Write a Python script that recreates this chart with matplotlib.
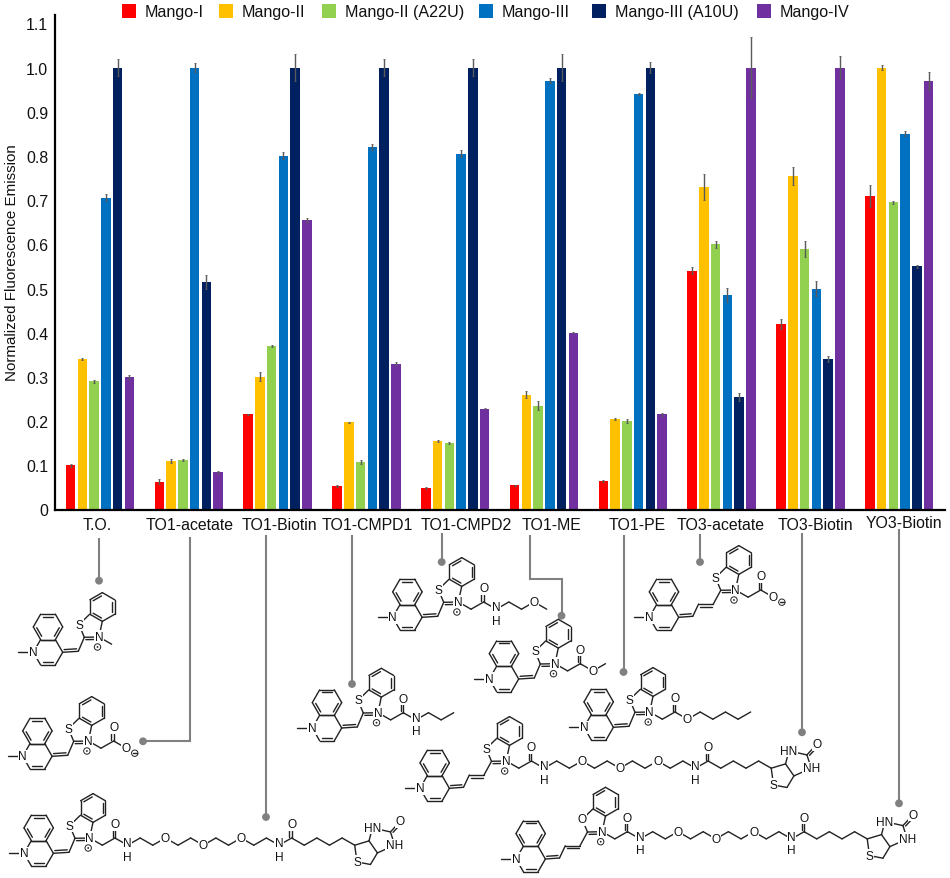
import numpy as np
import matplotlib
matplotlib.use('agg')
import matplotlib.pyplot as plt
from matplotlib.patches import Rectangle, Circle

plt.rcParams['font.family'] = ['Liberation Sans', 'DejaVu Sans']

# data
series = ['Mango-I', 'Mango-II', 'Mango-II (A22U)', 'Mango-III', 'Mango-III (A10U)', 'Mango-IV']
colors = ['#ff0000', '#ffc000', '#92d050', '#0070c0', '#002060', '#7030a0']
ligands = ['T.O.', 'TO1-acetate', 'TO1-Biotin', 'TO1-CMPD1', 'TO1-CMPD2', 'TO1-ME',
           'TO1-PE', 'TO3-acetate', 'TO3-Biotin', 'YO3-Biotin']

mango1 = [0.10, 0.063, 0.215, 0.053, 0.048, 0.055, 0.065, 0.54, 0.42, 0.71]
mango2 = [0.34, 0.11, 0.30, 0.197, 0.155, 0.26, 0.205, 0.73, 0.755, 1.0]
mango2m = [0.29, 0.112, 0.37, 0.108, 0.15, 0.235, 0.20, 0.60, 0.59, 0.695]
mango3 = [0.705, 1.0, 0.80, 0.82, 0.805, 0.97, 0.94, 0.485, 0.50, 0.85]
mango3m = [1.0, 0.515, 1.0, 1.0, 1.0, 1.0, 1.0, 0.255, 0.34, 0.55]
mango4 = [0.30, 0.085, 0.655, 0.33, 0.228, 0.40, 0.215, 1.0, 1.0, 0.97]

err1 = [0.003, 0.005, 0.002, 0.002, 0.002, 0.001, 0.002, 0.008, 0.012, 0.025]
err2 = [0.002, 0.004, 0.01, 0.002, 0.002, 0.008, 0.002, 0.03, 0.02, 0.005]
err2m = [0.004, 0.002, 0.003, 0.005, 0.002, 0.01, 0.004, 0.008, 0.018, 0.003]
err3 = [0.008, 0.01, 0.008, 0.007, 0.008, 0.006, 0.003, 0.016, 0.018, 0.006]
err3m = [0.02, 0.015, 0.03, 0.02, 0.02, 0.03, 0.013, 0.009, 0.007, 0.004]
err4 = [0.004, 0.002, 0.004, 0.004, 0.001, 0.001, 0.004, 0.07, 0.025, 0.02]

values = [mango1, mango2, mango2m, mango3, mango3m, mango4]
errors = [err1, err2, err2m, err3, err3m, err4]

W, H = 950, 879
fig = plt.figure(figsize=(9.5, 8.79), dpi=100)

### bar chart ###
ax = fig.add_axes([55 / W, 1 - 510.5 / H, 890 / W, 495 / H])
x = np.arange(len(ligands))
for num in range(6):
    ax.bar(x + (num - 2.5) * 0.1323, values[num], width=0.107, color=colors[num],
           yerr=errors[num], ecolor='#5a5a5a',
           error_kw={'elinewidth': 1.0, 'capsize': 0.6, 'capthick': 0.6})
ax.set_xlim(-0.507, 9.516)
ax.set_ylim(0, 1.12)
ax.set_yticks(np.arange(0, 1.11, 0.1))
ax.set_yticklabels(['0', '0.1', '0.2', '0.3', '0.4', '0.5', '0.6', '0.7', '0.8', '0.9', '1.0', '1.1'],
                   fontsize=11.4, color='#111111')
ax.set_xticks([])
ax.tick_params(axis='y', length=0, pad=5)
ax.set_ylabel('Normalized Fluorescence Emission', fontsize=10.9, color='#111111', labelpad=5)
ax.spines['top'].set_visible(False)
ax.spines['right'].set_visible(False)
ax.spines['left'].set_linewidth(1.6)
ax.spines['bottom'].set_linewidth(1.6)

### overlay in pixel coordinates for legend, labels and structures ###
ov = fig.add_axes([0, 0, 1, 1], zorder=5)
ov.set_xlim(0, W)
ov.set_ylim(H, 0)
ov.axis('off')
ov.patch.set_alpha(0)

# legend
legend_x = [122, 219, 322, 479, 592, 757]
for num in range(6):
    ov.add_patch(Rectangle((legend_x[num], 5), 14, 14, color=colors[num], lw=0))
    ov.text(legend_x[num] + 23, 12, series[num], fontsize=11.6, va='center', color='#111111')

# x labels do not sit on the group centres
label_x = [96.7, 190, 279, 367.7, 466, 551, 636.7, 721, 815, 904]
label_y = [525.7] * 9 + [523.5]
for num in range(10):
    ov.text(label_x[num], label_y[num], ligands[num], fontsize=11.4, ha='center', va='center', color='#111111')

# leader lines
GRAY = '#808080'
def leader(xs, ys):
    ov.plot(xs, ys, color=GRAY, lw=1.5, solid_joinstyle='miter')
    ov.add_patch(Circle((xs[-1], ys[-1]), 3.9, color=GRAY, lw=0))

leader([99, 99], [540, 581.7])
leader([190, 190, 143], [539, 742.3, 742.3])
leader([266, 266], [537, 818])
leader([352, 352], [537, 685])
leader([441.7, 441.7], [535, 563])
leader([530, 530, 561.5, 561.5], [537, 580, 580, 616.7])
leader([623.5, 623.5], [537, 673])
leader([700, 700], [535.7, 563])
leader([802, 802], [535, 733.3])
leader([899, 899], [531, 804.3])

### chemical structures ###
BOND = '#222222'
LW = 1.0

def bond(a, b):
    ov.plot([a[0], b[0]], [a[1], b[1]], color=BOND, lw=LW, solid_capstyle='round', zorder=3)

def double(a, b, side=1, gap=2.6):
    bond(a, b)
    a, b = np.array(a, float), np.array(b, float)
    d = b - a
    n = np.array([-d[1], d[0]]) / np.hypot(*d) * gap * side
    bond(a + n + d * 0.1, b + n - d * 0.1)

def atom(p, s, size=8.6):
    ov.text(p[0], p[1], s, fontsize=size, ha='center', va='center', color='#111111', zorder=4,
            bbox=dict(facecolor='white', edgecolor='none', pad=0.4))

def charge(p, minus=False):
    ov.add_patch(Circle(p, 3.2, fc='white', ec=BOND, lw=0.7, zorder=4))
    if minus:
        bond((p[0] - 1.8, p[1]), (p[0] + 1.8, p[1]))
        ov.lines[-1].set_zorder(5)
    else:
        ov.add_patch(Circle(p, 0.9, color=BOND, lw=0, zorder=5))

def ring(cx, cy, r, start, dbl):
    pts = [(cx + r * np.cos(np.radians(start + 60 * i)), cy + r * np.sin(np.radians(start + 60 * i))) for i in range(6)]
    c = np.array([cx, cy])
    for i in range(6):
        bond(pts[i], pts[(i + 1) % 6])
        if i in dbl:
            a = c + (np.array(pts[i]) - c) * 0.8
            b = c + (np.array(pts[(i + 1) % 6]) - c) * 0.8
            bond(a + (b - a) * 0.08, b - (b - a) * 0.08)

def biotin(p):
    x0, y0 = p
    def q(dx, dy):
        return (x0 + dx, y0 + dy)
    c3a, c6a, ch2, s = q(14.3, -4.3), q(22.7, 7.7), q(15.7, 19.3), q(2.3, 16.7)
    hn, co, o, nh = q(17.7, -17.3), q(35.7, -13.3), q(45.7, -24), q(40, 0)
    for a, b in [(p, c3a), (c3a, c6a), (c6a, ch2), (ch2, s), (s, p), (c3a, hn), (hn, co), (co, nh), (nh, c6a)]:
        bond(a, b)
    double(co, o, side=1, gap=2.2)
    atom(s, 'S')
    atom(hn, 'HN')
    atom(nh, 'NH')
    atom(o, 'O')

def chain(start, tokens):
    p = start
    sign = 1
    for t in tokens:
        nxt = (p[0] + 12.62, p[1] + sign * 7.2)
        bond(p, nxt)
        p = nxt
        if t == 'CO':
            double(p, (p[0], p[1] - 12.5), side=-1, gap=2.2)
            atom((p[0], p[1] - 14), 'O')
        elif t == 'O':
            atom(p, 'O')
        elif t == 'O-':
            atom(p, 'O')
            charge((p[0] + 8.5, p[1] + 5), minus=True)
        elif t == 'NH':
            # one text so N and H stay stacked
            atom((p[0], p[1] + 4.6), 'N\nH')
        sign = -sign
    return p

def core(nx, ny, tokens, long_bridge=False, hetero='S', tail=False):
    def q(dx, dy):
        return (nx + dx, ny + dy)
    # quinoline part
    ring(nx + 14.7, ny, 14.7, 0, [1])
    ring(nx + 14.7, ny - 25.4, 14.7, 0, [0, 2, 4])
    bond(q(-15, 0), q(0, 0))
    # bridge to the benzothiazole
    if long_bridge:
        double(q(29.4, 0), q(43.5, -1), side=-1)
        bond(q(43.5, -1), q(49.3, -13.3))
        double(q(49.3, -13.3), q(64, -13.3), side=1)
        bond(q(64, -13.3), q(71.5, -27))
        ox, oy = 20.5, -12
    else:
        double(q(29.4, 0), q(45, -1), side=-1)
        bond(q(45, -1), q(51, -15))
        ox, oy = 0, 0
    c2, s, n3 = q(51 + ox, -15 + oy), q(45.7 + ox, -27.7 + oy), q(65.7 + ox, -15.3 + oy)
    c7a, c3a = q(56 + ox, -37.7 + oy), q(69 + ox, -31 + oy)
    double(c2, n3, side=1, gap=2.4)
    bond(c2, s)
    bond(s, c7a)
    bond(n3, c3a)
    ring(nx + 69 + ox, ny - 45.3 + oy, 14.4, 30, [1, 3, 5])
    end = chain(n3, tokens)
    if tail:
        biotin(end)
    atom(s, hetero)
    atom(n3, 'N')
    charge((n3[0] - 1.5, n3[1] + 10))
    atom(q(0, 0), 'N')

peg = ['C', 'CO', 'NH', 'C', 'C', 'O', 'C', 'C', 'O', 'C', 'C', 'O', 'C', 'C',
       'NH', 'CO', 'C', 'C', 'C', 'C', 'C']

core(33.3, 653.3, ['C'])                                            # T.O.
core(22.7, 757.3, ['C', 'CO', 'O-'])                                # TO1-acetate
core(24, 854.3, peg, tail=True)                                     # TO1-Biotin
core(312.3, 729, ['C', 'CO', 'NH', 'C', 'C', 'C'])                  # TO1-CMPD1
core(392.7, 618.3, ['C', 'CO', 'NH', 'C', 'C', 'O', 'C'])           # TO1-CMPD2
core(489.3, 680, ['C', 'CO', 'O', 'C'])                             # TO1-ME
core(584, 728.3, ['C', 'CO', 'O', 'C', 'C', 'C', 'C', 'C'])         # TO1-PE
core(649.3, 618.3, ['C', 'CO', 'O-'], long_bridge=True)             # TO3-acetate
core(420, 789.3, peg, long_bridge=True, tail=True)                  # TO3-Biotin
core(516, 860, peg, long_bridge=True, hetero='O', tail=True)        # YO3-Biotin

fig.savefig('out.png', dpi=100)
plt.close(fig)
